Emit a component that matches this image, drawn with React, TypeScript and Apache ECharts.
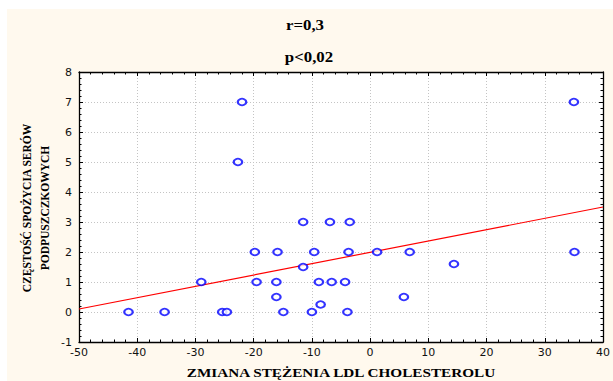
import React, { useEffect, useRef } from "react";
import * as echarts from "echarts";

const pointX = [-41.5, -35.3, -29.0, -25.4, -24.6, -22.0, -22.7, -19.8, -19.5, -15.9, -16.1, -16.1, -14.9, -11.5, -11.5, -9.6, -8.8, -8.5, -10.0, -6.9, -6.6, -3.5, -3.7, -4.3, -3.9, 1.2, 6.8, 5.8, 14.4, 35.1, 35.0];
const pointY = [0, 0, 1, 0, 0, 7, 5, 2, 1, 2, 1, 0.5, 0, 3, 1.5, 2, 1, 0.25, 0, 3, 1, 3, 2, 1, 0, 2, 2, 0.5, 1.6, 2, 7];
const fitX = [-50, 40];
const fitY = [0.1, 3.5];
const titleLines = ["r=0,3", "p<0,02"];
const xAxisName = "ZMIANA STĘŻENIA LDL CHOLESTEROLU";
const yAxisName = ["CZĘSTOŚĆ SPOŻYCIA SERÓW", "PODPUSZCZKOWYCH"];

const serif = "'Liberation Serif', 'DejaVu Serif', serif";
const sans = "'DejaVu Sans', 'Liberation Sans', sans-serif";

export default function App() {
  const ref = useRef<HTMLDivElement>(null);
  useEffect(() => {
    if (!ref.current) return;
    const chart = echarts.init(ref.current, undefined, { renderer: "svg" });
    const axisCommon = {
      type: "value" as const,
      axisLine: { show: true, onZero: false, lineStyle: { color: "#000", width: 1.3 } },
      axisTick: { show: true, inside: true, length: 4, lineStyle: { color: "#000", width: 1 } },
      minorTick: { show: true, splitNumber: 5, length: 2.5, lineStyle: { color: "#000", width: 1 } },
    };
    chart.setOption({
      animation: false,
      backgroundColor: "#ffffff",
      graphic: [
        { type: "rect", z: -10, silent: true, shape: { x: 7, y: 9, width: 606, height: 372 }, style: { fill: "#FFF9EE" } },
        { type: "text", x: 305, y: 25, scaleX: 1.2, style: { text: titleLines[0], font: `bold 14px ${serif}`, fill: "#000", align: "center", verticalAlign: "middle" } },
        { type: "text", x: 309, y: 57, scaleX: 1.2, style: { text: titleLines[1], font: `bold 14px ${serif}`, fill: "#000", align: "center", verticalAlign: "middle" } },
        { type: "text", x: 341, y: 373, scaleX: 1.27, style: { text: xAxisName, font: `bold 12px ${serif}`, fill: "#000", align: "center", verticalAlign: "middle" } },
        { type: "text", x: 27, y: 208, rotation: Math.PI / 2, scaleY: 1.05, style: { text: yAxisName[0], font: `bold 11.5px ${serif}`, fill: "#000", align: "center", verticalAlign: "middle" } },
        { type: "text", x: 45, y: 208, rotation: Math.PI / 2, scaleY: 1.05, style: { text: yAxisName[1], font: `bold 11.5px ${serif}`, fill: "#000", align: "center", verticalAlign: "middle" } },
      ],
      grid: { left: 79, right: 10, top: 72, bottom: 39, show: true, backgroundColor: "#ffffff", borderWidth: 0 },
      xAxis: [
        {
          ...axisCommon,
          position: "bottom",
          min: -50,
          max: 40,
          interval: 10,
          axisLabel: { show: true, margin: 5, fontSize: 11, fontFamily: sans, color: "#111" },
          splitLine: { show: true, lineStyle: { color: "#c4c4c4", type: [1, 2], width: 1 } },
        },
        {
          ...axisCommon,
          position: "top",
          min: -50,
          max: 40,
          interval: 10,
          axisLabel: { show: false },
          splitLine: { show: false },
        },
      ],
      yAxis: [
        {
          ...axisCommon,
          position: "left",
          min: -1,
          max: 8,
          interval: 1,
          axisLabel: { show: true, margin: 7, fontSize: 11, fontFamily: sans, color: "#111" },
          splitLine: { show: true, lineStyle: { color: "#c4c4c4", type: [1, 2], width: 1 } },
        },
        {
          ...axisCommon,
          position: "right",
          min: -1,
          max: 8,
          interval: 1,
          axisLabel: { show: false },
          splitLine: { show: false },
        },
      ],
      series: [
        {
          type: "line",
          data: fitX.map((x, i) => [x, fitY[i]]),
          showSymbol: false,
          symbol: "none",
          lineStyle: { color: "#ff0000", width: 1.2 },
          z: 3,
        },
        {
          type: "scatter",
          data: pointX.map((x, i) => [x, pointY[i]]),
          symbol: "emptyCircle",
          symbolSize: [8.5, 6.5],
          itemStyle: { color: "#0000ff", borderWidth: 1.1 },
          z: 4,
        },
      ],
    });
    return () => chart.dispose();
  }, []);
  return <div ref={ref} style={{ position: "fixed", left: 0, top: 0, width: 613, height: 381 }} />;
}
